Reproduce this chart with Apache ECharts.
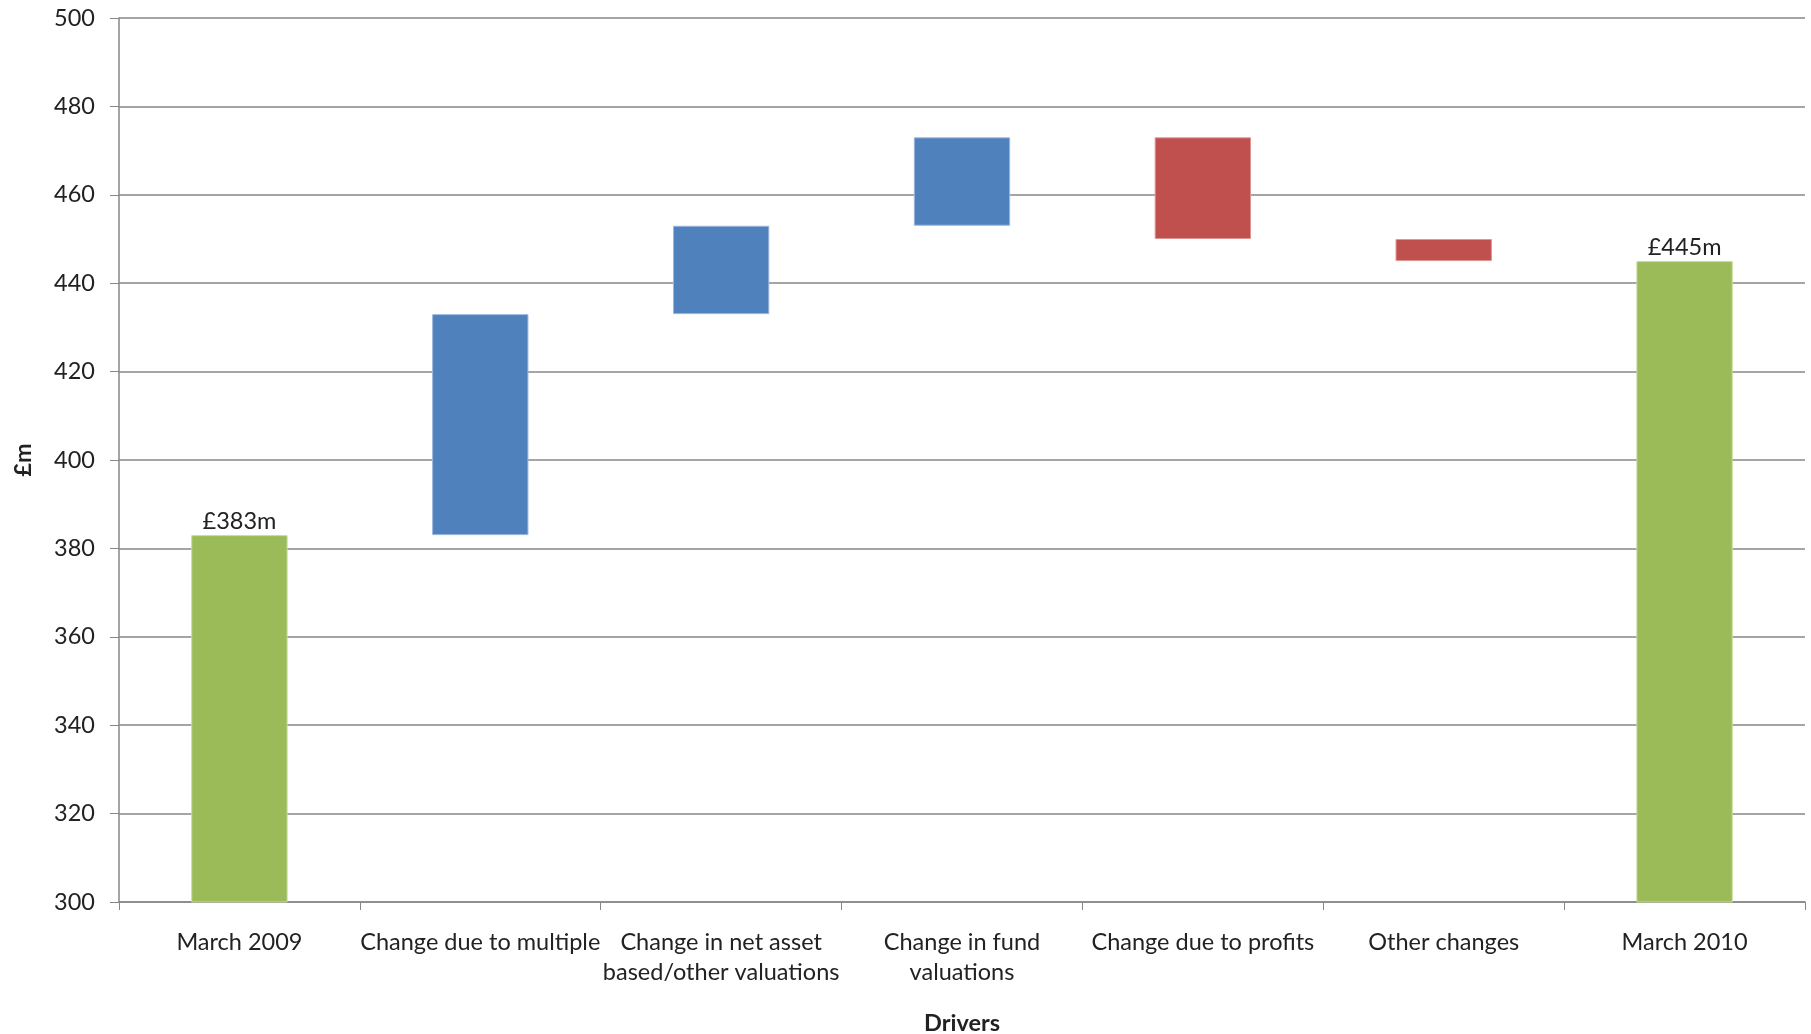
<!DOCTYPE html>
<html>
<head>
<meta charset="utf-8">
<title>Drivers of value change</title>
<script src="https://cdn.jsdelivr.net/npm/echarts@6/dist/echarts.min.js"></script>
<style>
  html, body { margin: 0; padding: 0; background: #fff; }
  #chart { width: 1811px; height: 1034px; }
</style>
</head>
<body>
<div id="chart"></div>
<script>
// Bridge from March 2009 to March 2010 (£m)
const categories = [
  'March 2009',
  'Change due to multiple',
  'Change in net asset\nbased/other valuations',
  'Change in fund\nvaluations',
  'Change due to profits',
  'Other changes',
  'March 2010'
];
const openingTotal = 383;
const changes = [50, 20, 20, -23, -5];   // drivers between the two totals
const closingTotal = 445;
const yTicks = { min: 300, max: 500, step: 20 };

// Build the invisible base and the visible segments for each column
const base = [], totalBars = [], upBars = [], downBars = [];
base.push(0); totalBars.push(openingTotal); upBars.push('-'); downBars.push('-');
let running = openingTotal;
changes.forEach(d => {
  if (d >= 0) {
    base.push(running); upBars.push(d); downBars.push('-');
  } else {
    base.push(running + d); downBars.push(-d); upBars.push('-');
  }
  totalBars.push('-');
  running += d;
});
base.push(0); totalBars.push(closingTotal); upBars.push('-'); downBars.push('-');

const font = 'Lato, "Noto Sans", sans-serif';
const fs = 23.5;
const textColor = '#222';
const lineColor = '#878787';

const chart = echarts.init(document.getElementById('chart'), null, { renderer: 'canvas' });
chart.setOption({
  animation: false,
  grid: {
    left: 119, right: 6, top: 18, bottom: 132,
    containLabel: false, outerBoundsMode: 'none'
  },
  xAxis: {
    type: 'category',
    data: categories,
    name: 'Drivers',
    nameLocation: 'middle',
    nameGap: 109,
    nameTextStyle: { fontFamily: font, fontSize: fs, fontWeight: 'bold', color: textColor },
    axisLine: { lineStyle: { color: lineColor, width: 1.5 } },
    axisTick: { show: true, length: 8, lineStyle: { color: lineColor } },
    axisLabel: {
      interval: 0, margin: 25, fontFamily: font, fontSize: fs,
      lineHeight: 30, color: textColor
    }
  },
  yAxis: {
    type: 'value',
    min: yTicks.min, max: yTicks.max, interval: yTicks.step,
    name: '£m',
    nameLocation: 'middle',
    nameGap: 84,
    nameRotate: 90,
    nameTextStyle: { fontFamily: font, fontSize: fs, fontWeight: 'bold', color: textColor },
    axisLine: { show: true, lineStyle: { color: lineColor, width: 1.5 } },
    axisTick: { show: true, length: 9, lineStyle: { color: lineColor } },
    axisLabel: { margin: 24, fontFamily: font, fontSize: fs, color: textColor },
    splitLine: { lineStyle: { color: lineColor, width: 1.5 } }
  },
  series: [
    {
      name: 'base', type: 'bar', stack: 'bridge', data: base,
      itemStyle: { color: 'transparent' }, silent: true, barWidth: '40%'
    },
    {
      name: 'Total', type: 'bar', stack: 'bridge', data: totalBars,
      itemStyle: { color: '#9BBB59', borderColor: '#C6DB9E', borderWidth: 1 },
      label: {
        show: true, position: 'top', distance: 2, formatter: '£{c}m',
        fontFamily: font, fontSize: fs, color: textColor
      }
    },
    {
      name: 'Increase', type: 'bar', stack: 'bridge', data: upBars,
      itemStyle: { color: '#4F81BD', borderColor: '#9DB9DE', borderWidth: 1 }
    },
    {
      name: 'Decrease', type: 'bar', stack: 'bridge', data: downBars,
      itemStyle: { color: '#C0504D', borderColor: '#DE9593', borderWidth: 1 }
    }
  ]
});
</script>
</body>
</html>
